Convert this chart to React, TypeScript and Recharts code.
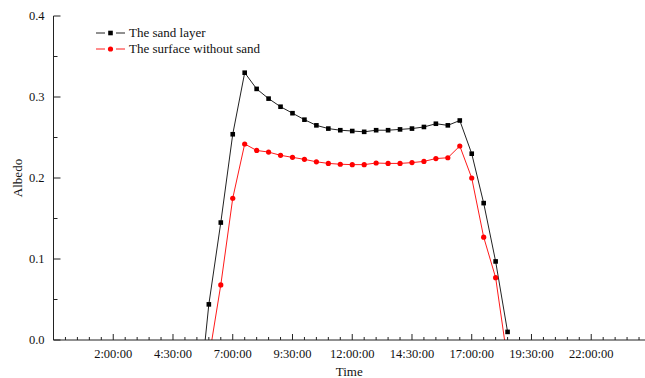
import React from 'react';
import { LineChart, Line, XAxis, YAxis, Legend } from 'recharts';

// time of day in hours (half-hour samples)
const times = [
  5.5, 6, 6.5, 7, 7.5, 8, 8.5, 9, 9.5, 10, 10.5, 11, 11.5, 12, 12.5, 13, 13.5,
  14, 14.5, 15, 15.5, 16, 16.5, 17, 17.5, 18, 18.5,
];

const sandLayer = [
  -0.1, 0.044, 0.145, 0.254, 0.33, 0.31, 0.298, 0.288, 0.28, 0.272, 0.265, 0.261,
  0.259, 0.258, 0.257, 0.259, 0.259, 0.26, 0.261, 0.263, 0.267, 0.265, 0.271,
  0.23, 0.169, 0.097, 0.01,
];

const surfaceWithoutSand = [
  null, -0.023, 0.068, 0.175, 0.242, 0.234, 0.232, 0.228, 0.2255, 0.223, 0.22,
  0.218, 0.217, 0.2165, 0.2165, 0.2185, 0.218, 0.218, 0.219, 0.2205, 0.224,
  0.225, 0.2395, 0.2, 0.127, 0.077, -0.026,
];

const xMajorTicks = [2, 4.5, 7, 9.5, 12, 14.5, 17, 19.5, 22];
const xTickLabels = [
  '2:00:00', '4:30:00', '7:00:00', '9:30:00', '12:00:00', '14:30:00',
  '17:00:00', '19:30:00', '22:00:00',
];
const yMajorTicks = [0, 0.1, 0.2, 0.3, 0.4];
const yTickLabels = ['0.0', '0.1', '0.2', '0.3', '0.4'];

const data = times.map((t, i) => ({
  t,
  sand: sandLayer[i],
  bare: surfaceWithoutSand[i],
}));

// minor ticks every half hour / every 0.05
const xTicks = Array.from({ length: 49 }, (_, i) => i * 0.5);
const yTicks = Array.from({ length: 9 }, (_, i) => i * 0.05);

const FONT = '"Liberation Serif", "Times New Roman", serif';
const AXIS = '#222';

const findMajor = (list: number[], v: number) =>
  list.findIndex((m) => Math.abs(m - v) < 1e-6);

const XTick = (props: any) => {
  const { x, y, payload } = props;
  const idx = findMajor(xMajorTicks, payload.value);
  return (
    <g>
      <line x1={x} x2={x} y1={y} y2={y - (idx >= 0 ? 6 : 3)} stroke={AXIS} />
      {idx >= 0 && (
        <text x={x} y={y + 18} textAnchor="middle" fontSize={12.5} fill="#111" fontFamily={FONT}>
          {xTickLabels[idx]}
        </text>
      )}
    </g>
  );
};

const YTick = (props: any) => {
  const { x, y, payload } = props;
  const idx = findMajor(yMajorTicks, payload.value);
  return (
    <g>
      <line x1={x} x2={x + (idx >= 0 ? 7 : 4)} y1={y} y2={y} stroke={AXIS} />
      {idx >= 0 && (
        <text x={x - 9} y={y + 4} textAnchor="end" fontSize={12.5} fill="#111" fontFamily={FONT}>
          {yTickLabels[idx]}
        </text>
      )}
    </g>
  );
};

const SquareDot = (props: any) => {
  const { cx, cy, index } = props;
  if (cx == null || cy == null) return <g key={`sq-${index}`} />;
  return <rect key={`sq-${index}`} x={cx - 2.3} y={cy - 2.3} width={4.6} height={4.6} fill="#000" />;
};

const renderLegend = (props: any) => {
  const { payload = [] } = props;
  return (
    <div style={{ fontFamily: FONT, fontSize: 13, color: '#111' }}>
      {payload.map((entry: any) => (
        <div key={entry.value} style={{ display: 'flex', alignItems: 'center', height: 16.3 }}>
          <svg width={30} height={10} style={{ marginRight: 3 }}>
            <line x1={0} x2={9} y1={5} y2={5} stroke={entry.color} />
            <line x1={20} x2={29} y1={5} y2={5} stroke={entry.color} />
            {entry.dataKey === 'sand' ? (
              <rect x={12.2} y={2.7} width={4.6} height={4.6} fill="#000" />
            ) : (
              <circle cx={14.5} cy={5} r={2.6} fill="#f00" />
            )}
          </svg>
          <span>{entry.value}</span>
        </div>
      ))}
    </div>
  );
};

export default function App() {
  return (
    <div style={{ position: 'absolute', left: 0, top: 0, background: '#fff' }}>
      <LineChart
        width={645}
        height={378}
        data={data}
        margin={{ top: 16, right: 0, bottom: 0, left: 0 }}
      >
        <XAxis
          dataKey="t"
          type="number"
          domain={[-0.5, 24.25]}
          ticks={xTicks}
          interval={0}
          allowDataOverflow
          height={38}
          tickSize={0}
          tickMargin={0}
          tickLine={false}
          axisLine={{ stroke: AXIS }}
          tick={<XTick />}
          label={{
            content: (p: any) => {
              const vb = p.viewBox || {};
              return (
                <text x={vb.x + vb.width / 2} y={376} textAnchor="middle" fontSize={13} fill="#111" fontFamily={FONT}>
                  Time
                </text>
              );
            },
          }}
        />
        <YAxis
          type="number"
          domain={[0, 0.4]}
          ticks={yTicks}
          interval={0}
          allowDataOverflow
          width={53.5}
          tickSize={0}
          tickMargin={0}
          tickLine={false}
          axisLine={{ stroke: AXIS }}
          tick={<YTick />}
          label={{
            content: (p: any) => {
              const vb = p.viewBox || {};
              const cy = vb.y + vb.height / 2;
              return (
                <text x={22} y={cy} transform={`rotate(-90 22 ${cy})`} textAnchor="middle" fontSize={13} fill="#111" fontFamily={FONT}>
                  Albedo
                </text>
              );
            },
          }}
        />
        <Legend
          layout="vertical"
          align="center"
          verticalAlign="middle"
          content={renderLegend}
          wrapperStyle={{ left: 96, top: 25, width: 240 }}
        />
        <Line
          name="The sand layer"
          dataKey="sand"
          stroke="#222"
          strokeWidth={1}
          dot={SquareDot}
          activeDot={false}
          isAnimationActive={false}
        />
        <Line
          name="The surface without sand"
          dataKey="bare"
          stroke="#ff1a1a"
          strokeWidth={1}
          dot={{ r: 2.6, fill: '#f00', stroke: 'none' }}
          activeDot={false}
          isAnimationActive={false}
        />
      </LineChart>
    </div>
  );
}
